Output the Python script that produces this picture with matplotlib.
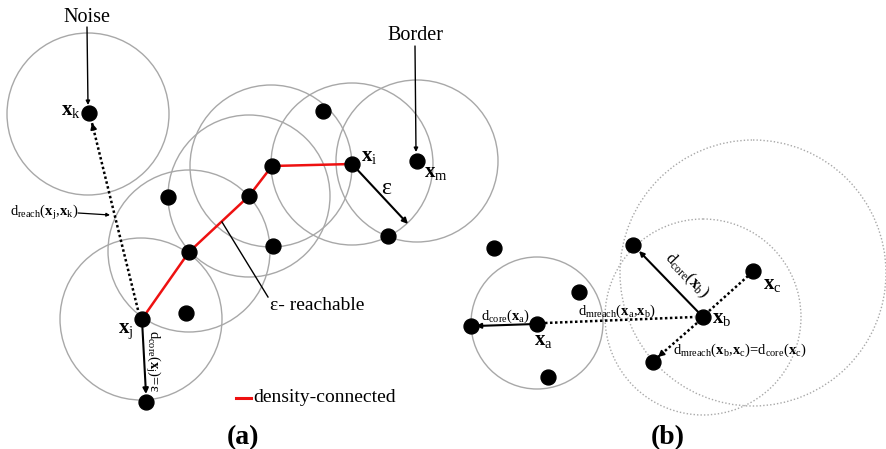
import numpy as np
import matplotlib.pyplot as plt
from matplotlib.patches import Circle

plt.rcParams['font.family'] = ['Liberation Serif', 'DejaVu Serif']
plt.rcParams['mathtext.fontset'] = 'custom'
plt.rcParams['mathtext.rm'] = 'Liberation Serif'
plt.rcParams['mathtext.bf'] = 'Liberation Serif:bold'
plt.rcParams['mathtext.it'] = 'Liberation Serif:italic'

# panel (a) points (pixel coords of the reference, y down)
a_x = [89, 168, 249, 272, 352, 323, 417, 189, 273, 142, 186, 146, 388]
a_y = [113, 197, 196, 166, 164, 111, 161, 252, 246, 319, 313, 402, 236]
# eps-neighbourhoods in (a)
a_circ_x = [88, 141, 189, 249, 271, 352, 417]
a_circ_y = [114, 319, 251, 196, 166, 164, 161]
a_radius = 81
# density-connected chain x_j -> x_i
chain_x = [142, 189, 249, 272, 352]
chain_y = [319, 252, 196, 166, 164]

# panel (b) points
b_x = [494, 537, 471, 579, 548, 703, 633, 753, 653]
b_y = [248, 324, 326, 292, 377, 317, 245, 271, 362]
# circles: x_a (solid), x_b, x_c (dotted)
b_circ_x = [537, 703, 753]
b_circ_y = [323, 317, 273]
b_circ_r = [66, 98, 133]

fig = plt.figure(figsize=(8.87, 4.49), dpi=100)
ax = fig.add_axes([0, 0, 1, 1])
ax.set_xlim(0, 887)
ax.set_ylim(449, 0)
ax.axis('off')


def head(x0, y0, x1, y1, ms=9):
    # small solid arrow head pointing at (x1, y1)
    ax.annotate('', xy=(x1, y1), xytext=(x0, y0),
                arrowprops=dict(arrowstyle='-|>', color='black', lw=1.2,
                                mutation_scale=ms, shrinkA=0, shrinkB=0))


def dotted(x0, y0, x1, y1, with_head=True):
    ax.plot([x0, x1], [y0, y1], color='black', lw=1.8, ls=(0, (1, 1)), zorder=3)
    if with_head:
        d = np.hypot(x1 - x0, y1 - y0)
        ux, uy = (x1 - x0) / d, (y1 - y0) / d
        head(x1 - 6 * ux, y1 - 6 * uy, x1, y1)


# circles
for cx, cy in zip(a_circ_x, a_circ_y):
    ax.add_patch(Circle((cx, cy), a_radius, fill=False, ec='#a8a8a8', lw=1.0))
ax.add_patch(Circle((b_circ_x[0], b_circ_y[0]), b_circ_r[0], fill=False, ec='#a8a8a8', lw=1.0))
for cx, cy, r in zip(b_circ_x[1:], b_circ_y[1:], b_circ_r[1:]):
    ax.add_patch(Circle((cx, cy), r, fill=False, ec='#a8a8a8', lw=1.0, ls=(0, (1, 1.5))))

# red chain
ax.plot(chain_x, chain_y, color='#ee1111', lw=1.8, zorder=2)

# points
ax.scatter(a_x, a_y, s=115, color='black', zorder=5)
ax.scatter(b_x, b_y, s=115, color='black', zorder=5)

# ---- panel (a) annotations ----
ax.text(87, 17, 'Noise', fontsize=14.5, ha='center', va='center')
ax.annotate('', xy=(88, 105), xytext=(87, 27),
            arrowprops=dict(arrowstyle='-|>', color='black', lw=1.0, mutation_scale=6, shrinkA=0, shrinkB=0))
ax.text(415, 36, 'Border', fontsize=14.5, ha='center', va='center')
ax.annotate('', xy=(416, 152), xytext=(415, 46),
            arrowprops=dict(arrowstyle='-|>', color='black', lw=1.0, mutation_scale=6, shrinkA=0, shrinkB=0))

ax.text(71, 111, r'$\mathbf{x}_\mathrm{k}$', fontsize=15, ha='center', va='center')
ax.text(369, 157, r'$\mathbf{x}_\mathrm{i}$', fontsize=15, ha='center', va='center')
ax.text(436, 172, r'$\mathbf{x}_\mathrm{m}$', fontsize=15, ha='center', va='center')
ax.text(126, 331, r'$\mathbf{x}_\mathrm{j}$', fontsize=15, ha='center', va='center')

# eps arrow
ax.annotate('', xy=(408, 224), xytext=(352, 164),
            arrowprops=dict(arrowstyle='-|>', color='black', lw=1.5, mutation_scale=8, shrinkA=0, shrinkB=0))
ax.text(386, 189, 'ε', fontsize=17, ha='center', va='center')

# reach distance x_j -> x_k
dotted(138, 310, 92, 123)
ax.text(10, 213, r'$\mathrm{d}_\mathrm{reach}(\mathbf{x}_\mathrm{j}{,}\mathbf{x}_\mathrm{k})$',
        fontsize=10.5, ha='left', va='center')
ax.annotate('', xy=(110, 215), xytext=(78, 213),
            arrowprops=dict(arrowstyle='-|>', color='black', lw=0.9, mutation_scale=5, shrinkA=0, shrinkB=0))

# eps-reachable
ax.plot([268, 222], [297, 222], color='black', lw=1.0)
ax.text(270, 305, 'ε- reachable', fontsize=14, ha='left', va='center')

# core distance of x_j
ax.annotate('', xy=(146, 394), xytext=(142, 320),
            arrowprops=dict(arrowstyle='-|>', color='black', lw=1.5, mutation_scale=8, shrinkA=0, shrinkB=0))
ax.text(153, 361, r'$\mathrm{d}_\mathrm{core}(\mathbf{x}_\mathrm{j})$=ε', fontsize=10.5,
        rotation=-90, ha='center', va='center')

# legend
ax.plot([236, 251], [398, 398], color='#ee1111', lw=2.2)
ax.text(253, 397, 'density-connected', fontsize=14, ha='left', va='center')

ax.text(243, 438, '(a)', fontsize=20, fontweight='bold', ha='center', va='center')

# ---- panel (b) annotations ----
ax.text(543, 340, r'$\mathbf{x}_\mathrm{a}$', fontsize=15, ha='center', va='center')
ax.text(722, 319, r'$\mathbf{x}_\mathrm{b}$', fontsize=15, ha='center', va='center')
ax.text(772, 285, r'$\mathbf{x}_\mathrm{c}$', fontsize=15, ha='center', va='center')

ax.annotate('', xy=(476, 326), xytext=(535, 324),
            arrowprops=dict(arrowstyle='-|>', color='black', lw=1.5, mutation_scale=7, shrinkA=0, shrinkB=0))
ax.text(505, 316, r'$\mathrm{d}_\mathrm{core}(\mathbf{x}_\mathrm{a})$', fontsize=10.5, ha='center', va='center')

dotted(545, 323, 695, 317, with_head=False)
ax.text(617, 311, r'$\mathrm{d}_\mathrm{mreach}(\mathbf{x}_\mathrm{a}{,}\mathbf{x}_\mathrm{b})$',
        fontsize=10.5, ha='center', va='center')

ax.annotate('', xy=(639, 251), xytext=(703, 317),
            arrowprops=dict(arrowstyle='-|>', color='black', lw=1.5, mutation_scale=7, shrinkA=0, shrinkB=0))
ax.text(686, 275, r'$\mathrm{d}_\mathrm{core}(\mathbf{x}_\mathrm{b})$', fontsize=12,
        rotation=-46, rotation_mode='anchor', ha='center', va='center')

dotted(709, 311, 748, 276, with_head=False)
dotted(697, 323, 658, 357)
ax.text(673, 350, r'$\mathrm{d}_\mathrm{mreach}(\mathbf{x}_\mathrm{b}{,}\mathbf{x}_\mathrm{c})$=$\mathrm{d}_\mathrm{core}(\mathbf{x}_\mathrm{c})$',
        fontsize=10.5, ha='left', va='center')

ax.text(668, 438, '(b)', fontsize=20, fontweight='bold', ha='center', va='center')

fig.savefig('out.png', dpi=100)
